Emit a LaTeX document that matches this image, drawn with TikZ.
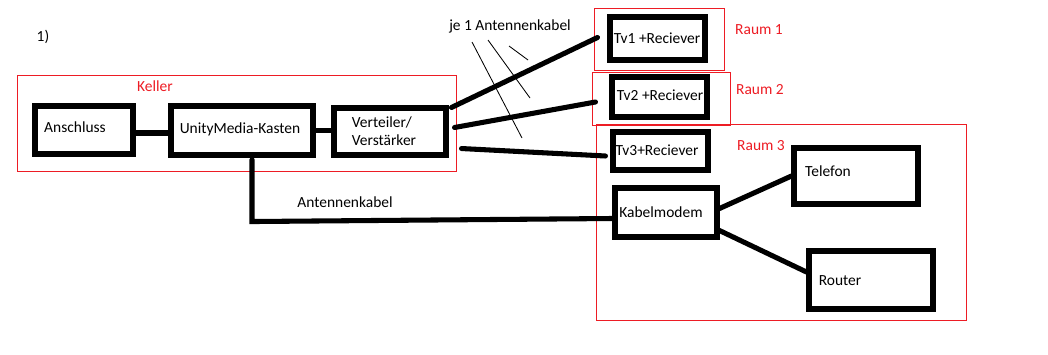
\documentclass[tikz,border=0pt]{standalone}
\usepackage{fontspec}
\setmainfont{Carlito}
\usepackage{xcolor}
\usetikzlibrary{positioning,fit,calc}
\definecolor{paintred}{RGB}{237,28,36}

\begin{document}
\begin{tikzpicture}[
  x={(0.025cm,0cm)},
  y={(0cm,-0.025cm)},
  box/.style={draw=black, line width=3.6pt, inner sep=0pt},
  room/.style={draw=paintred, line width=0.7pt, inner sep=0pt},
  wire/.style={draw=black, line width=3.6pt, line cap=round},
  lab/.style={font=\fontsize{11}{13}\selectfont, inner sep=0pt},
  rlab/.style={lab, text=paintred}
]
\useasboundingbox (0,0) rectangle (1048,355);

\node[room, fit={(17,75) (456,171)}] (keller) {};
\node[room, fit={(594,8) (724,70)}] (raum1) {};
\node[room, fit={(592,72) (730,125)}] (raum2) {};
\node[room, fit={(596,124) (966,320)}] (raum3) {};

\node[box, fit={(35,106) (133,154)}] (anschluss) {};
\node[box, fit={(171,106) (313,155)}] (unity) {};
\node[box, fit={(334,108) (446,155)}] (verteiler) {};
\node[box, fit={(610,17) (705,60)}] (tv1) {};
\node[box, fit={(612,77) (707,117)}] (tv2) {};
\node[box, fit={(613,132) (708,170)}] (tv3) {};
\node[box, fit={(615,188) (717,237)}] (modem) {};
\node[box, fit={(794,148) (918,204)}] (telefon) {};
\node[box, fit={(809,251) (933,309)}] (router) {};

\node[lab] (nr) at (43,37) {1)};
\node[rlab] (kellerlab) at (155,86) {Keller};
\node[rlab] (raum1lab) at (759,30) {Raum 1};
\node[rlab] (raum2lab) at (760,90) {Raum 2};
\node[rlab] (raum3lab) at (761,146) {Raum 3};

\node[lab] (anschlusslab) at (75,127) {Anschluss};
\node[lab] (unitylab) at (240,129) {UnityMedia-Kasten};
\node[lab, align=left] (verteilerlab) at (384,131) {Verteiler/\\Verstärker};
\node[lab] (tv1lab) at (657,38) {Tv1 +Reciever};
\node[lab] (tv2lab) at (660,95) {Tv2 +Reciever};
\node[lab] (tv3lab) at (657,150) {Tv3+Reciever};
\node[lab] (modemlab) at (661,212) {Kabelmodem};
\node[lab] (telefonlab) at (828,171) {Telefon};
\node[lab] (routerlab) at (840,281) {Router};
\node[lab] (kabellab) at (345,202) {Antennenkabel};
\node[lab] (jelab) at (510,26) {je 1 Antennenkabel};

\coordinate (tv1end) at ($(tv1.west)+(-10,-1)$);
\coordinate (tv2end) at ($(tv2.west)+(-14,5)$);
\coordinate (tv3end) at ($(tv3.west)+(-5,5)$);
\coordinate (drop) at ($(unity.south)+(10,2)$);
\coordinate (link) at ($(anschluss.east)+(0,3)$);

\draw[wire] (link) -- (link -| unity.west);
\draw[wire] (unity.east) -- (unity.east -| verteiler.west);
\draw[wire] ($(verteiler.north east)+(3,2)$) -- (tv1end);
\draw[wire] ($(verteiler.east)+(6,-4)$) -- (tv2end);
\draw[wire] ($(verteiler.south east)+(13,-9)$) -- (tv3end);
\draw[wire] (drop) -- ($(drop)+(0,62)$) -- ($(modem.west)+(0,6)$);
\draw[wire] ($(modem.east)+(0,-4)$) -- (telefon.west);
\draw[wire] ($(modem.south east)+(0,-9)$) -- ($(router.west)+(0,-8)$);

\foreach \a/\b in {{(472,42)}/{(522,138)}, {(488,40)}/{(530,98)}, {(509,46)}/{(528,60)}} {
  \draw[black, line width=0.6pt] \a -- \b;
}
\end{tikzpicture}
\end{document}
